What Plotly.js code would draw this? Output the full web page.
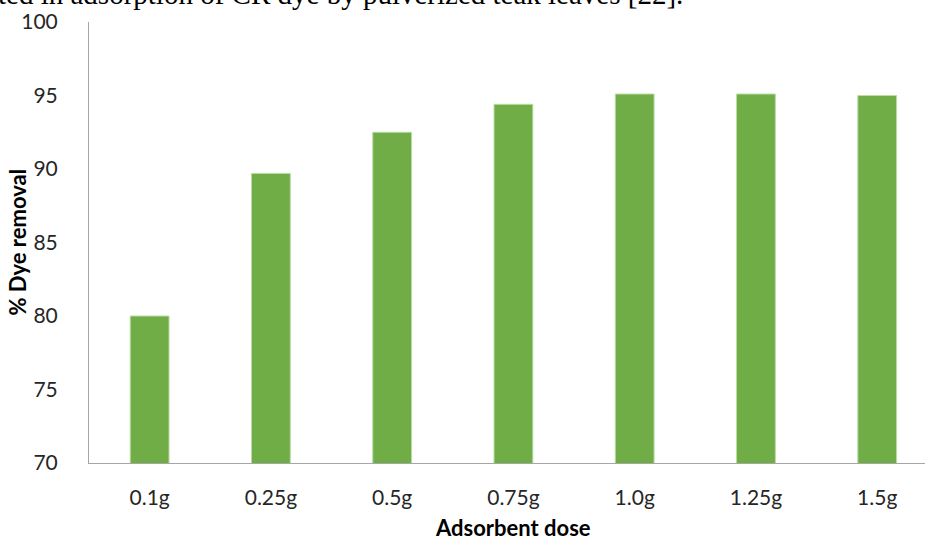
<!DOCTYPE html>
<html>
<head>
<meta charset="utf-8">
<script src="https://cdn.plot.ly/plotly-3.0.1.min.js"></script>
<style>
  html, body { margin: 0; padding: 0; background: #ffffff; }
  #chart { width: 925px; height: 540px; }
</style>
</head>
<body>
<div id="chart"></div>
<script>
// Adsorbent dose vs. percentage of dye removed
const doses = ['0.1g', '0.25g', '0.5g', '0.75g', '1.0g', '1.25g', '1.5g'];
const removal = [80.0, 89.7, 92.5, 94.4, 95.1, 95.1, 95.0];
const yTicks = [70, 75, 80, 85, 90, 95, 100];

const captionText = 'ted in adsorption of CR dye by pulverized teak leaves [22].';

const tickFont = { family: 'Lato, "Open Sans", sans-serif', size: 21, color: '#262626' };
const titleFont = { family: 'Lato, "Open Sans", sans-serif', size: 22, color: '#000000', weight: 'bold' };

const trace = {
  type: 'bar',
  x: doses,
  y: removal,
  width: 0.32,
  marker: {
    color: '#70AD47',
    line: { color: '#B9DCA3', width: 1 }
  },
  hoverinfo: 'x+y'
};

const layout = {
  width: 925,
  height: 540,
  margin: { l: 89, r: 0, t: 22, b: 77 },
  paper_bgcolor: '#ffffff',
  plot_bgcolor: '#ffffff',
  showlegend: false,
  bargap: 0,
  xaxis: {
    type: 'category',
    range: [-0.5, 6.394],
    showline: true,
    linecolor: '#A6A6A6',
    linewidth: 1,
    showgrid: false,
    zeroline: false,
    ticks: '',
    tickfont: tickFont,
    ticklabelstandoff: 16
  },
  yaxis: {
    range: [70, 100],
    tickvals: yTicks,
    showline: true,
    linecolor: '#A6A6A6',
    linewidth: 1,
    showgrid: false,
    zeroline: false,
    ticks: '',
    tickfont: tickFont,
    ticklabelstandoff: 26
  },
  annotations: [
    {
      text: captionText,
      xref: 'paper', yref: 'paper',
      x: -0.11, y: 1.063,
      xanchor: 'left', yanchor: 'middle',
      showarrow: false,
      borderpad: 0,
      font: { family: '"Liberation Serif", "DejaVu Serif", serif', size: 29, color: '#000000' }
    },
    {
      text: 'Adsorbent dose',
      xref: 'paper', yref: 'paper',
      x: (513 - 89) / 836, y: -(527 - 463) / 441,
      xanchor: 'center', yanchor: 'middle',
      showarrow: false,
      font: titleFont
    },
    {
      text: '% Dye removal',
      xref: 'paper', yref: 'paper',
      x: -(89 - 17) / 836, y: 0.5,
      xanchor: 'center', yanchor: 'middle',
      textangle: -90,
      showarrow: false,
      font: titleFont
    }
  ]
};

Plotly.newPlot('chart', [trace], layout, { displayModeBar: false, staticPlot: true });
</script>
</body>
</html>
